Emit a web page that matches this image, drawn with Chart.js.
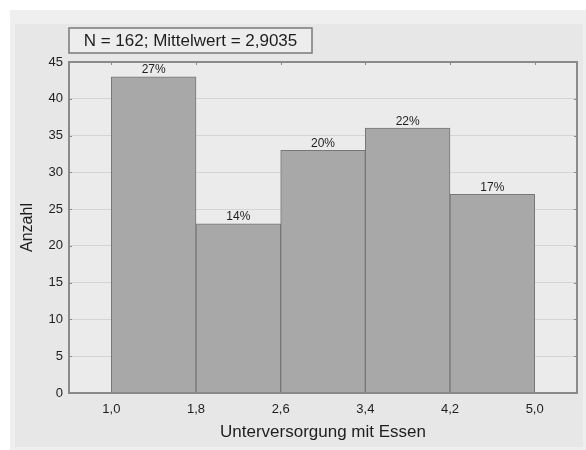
<!DOCTYPE html>
<html>
<head>
<meta charset="utf-8">
<script src="https://cdn.jsdelivr.net/npm/chart.js@4"></script>
<style>
  html, body { margin: 0; padding: 0; background: #ffffff; }
  #wrap { width: 586px; height: 450px; position: relative; }
</style>
</head>
<body>
<div id="wrap"><canvas id="chart" width="586" height="450"></canvas></div>
<script>
// histogram bins (class centres) and counts
const binCenters = [1.4, 2.2, 3.0, 3.8, 4.6];
const counts = [43, 23, 33, 36, 27];
const pctLabels = ['27%', '14%', '20%', '22%', '17%'];
const xTicks = [1.0, 1.8, 2.6, 3.4, 4.2, 5.0];
const infoText = 'N = 162; Mittelwert = 2,9035';

const FONT = '"Liberation Sans", Arial, sans-serif';
const TEXT = '#1e1e1e';

const decorPlugin = {
  id: 'decor',
  beforeDraw(chart) {
    const ctx = chart.ctx;
    const area = chart.chartArea;
    ctx.save();
    ctx.fillStyle = '#ffffff';
    ctx.fillRect(0, 0, chart.width, chart.height);
    ctx.fillStyle = '#efefef';
    ctx.fillRect(10, 10, chart.width - 10, chart.height - 10);
    ctx.fillStyle = '#e7e7e7';
    ctx.fillRect(15, 24, chart.width - 18, chart.height - 27);
    ctx.fillStyle = '#ebebeb';
    ctx.fillRect(area.left, area.top, area.right - area.left, area.bottom - area.top);
    ctx.restore();
  },
  afterDatasetsDraw(chart) {
    const ctx = chart.ctx;
    const meta = chart.getDatasetMeta(0);
    ctx.save();
    ctx.fillStyle = TEXT;
    ctx.font = '12px ' + FONT;
    ctx.textAlign = 'center';
    ctx.textBaseline = 'bottom';
    meta.data.forEach((bar, i) => {
      ctx.fillText(pctLabels[i], bar.x, bar.y - 1);
    });
    ctx.restore();
  },
  afterDraw(chart) {
    const ctx = chart.ctx;
    const area = chart.chartArea;
    const xs = chart.scales.x, ys = chart.scales.y;
    ctx.save();
    // plot frame
    ctx.strokeStyle = '#8a8a8a';
    ctx.lineWidth = 2;
    ctx.strokeRect(area.left, area.top, area.right - area.left, area.bottom - area.top);
    // small tick marks on the frame
    ctx.lineWidth = 1;
    xTicks.forEach(v => {
      const px = Math.round(xs.getPixelForValue(v)) + 0.5;
      ctx.beginPath(); ctx.moveTo(px, area.top); ctx.lineTo(px, area.top + 3); ctx.stroke();
    });
    for (let v = 5; v < 45; v += 5) {
      const py = Math.round(ys.getPixelForValue(v)) + 0.5;
      ctx.beginPath(); ctx.moveTo(area.right - 3, py); ctx.lineTo(area.right, py); ctx.stroke();
      ctx.beginPath(); ctx.moveTo(area.left, py); ctx.lineTo(area.left + 3, py); ctx.stroke();
    }
    // info box
    ctx.fillStyle = '#ededed';
    ctx.fillRect(69, 28, 243, 25);
    ctx.strokeStyle = '#7a7a7a';
    ctx.lineWidth = 1.5;
    ctx.strokeRect(69, 28, 243, 25);
    ctx.fillStyle = TEXT;
    ctx.font = '17px ' + FONT;
    ctx.textAlign = 'center';
    ctx.textBaseline = 'middle';
    ctx.fillText(infoText, 190.5, 41);
    ctx.restore();
  }
};

new Chart(document.getElementById('chart'), {
  type: 'bar',
  data: {
    datasets: [{
      data: binCenters.map((c, i) => ({ x: c, y: counts[i] })),
      backgroundColor: '#a8a8a8',
      borderColor: '#777777',
      borderWidth: 1,
      barPercentage: 1.0,
      categoryPercentage: 1.0,
      borderSkipped: 'bottom'
    }]
  },
  options: {
    responsive: false,
    animation: false,
    events: [],
    layout: { padding: { left: 12, top: 62, right: 9, bottom: 0 } },
    plugins: { legend: { display: false }, tooltip: { enabled: false } },
    scales: {
      x: {
        type: 'linear',
        offset: false,
        min: 0.6,
        max: 5.4,
        afterBuildTicks: s => { s.ticks = xTicks.map(v => ({ value: v })); },
        afterFit: s => { s.height = 57; },
        grid: { display: false, drawTicks: false },
        border: { display: false },
        ticks: {
          color: TEXT,
          font: { family: FONT, size: 13 },
          padding: 9,
          maxRotation: 0,
          callback: v => v.toFixed(1).replace('.', ',')
        },
        title: {
          display: true,
          text: 'Unterversorgung mit Essen',
          color: TEXT,
          font: { family: FONT, size: 17 },
          padding: { top: 4, bottom: 7 }
        }
      },
      y: {
        min: 0,
        max: 45,
        afterFit: s => { s.width = 57; },
        grid: { color: '#d4d4d4', lineWidth: 1, drawTicks: false },
        border: { display: false },
        ticks: {
          stepSize: 5,
          color: TEXT,
          font: { family: FONT, size: 13 },
          padding: 6
        },
        title: {
          display: true,
          text: 'Anzahl',
          color: TEXT,
          font: { family: FONT, size: 16 },
          padding: { top: 6, bottom: 4 }
        }
      }
    }
  },
  plugins: [decorPlugin]
});
</script>
</body>
</html>
